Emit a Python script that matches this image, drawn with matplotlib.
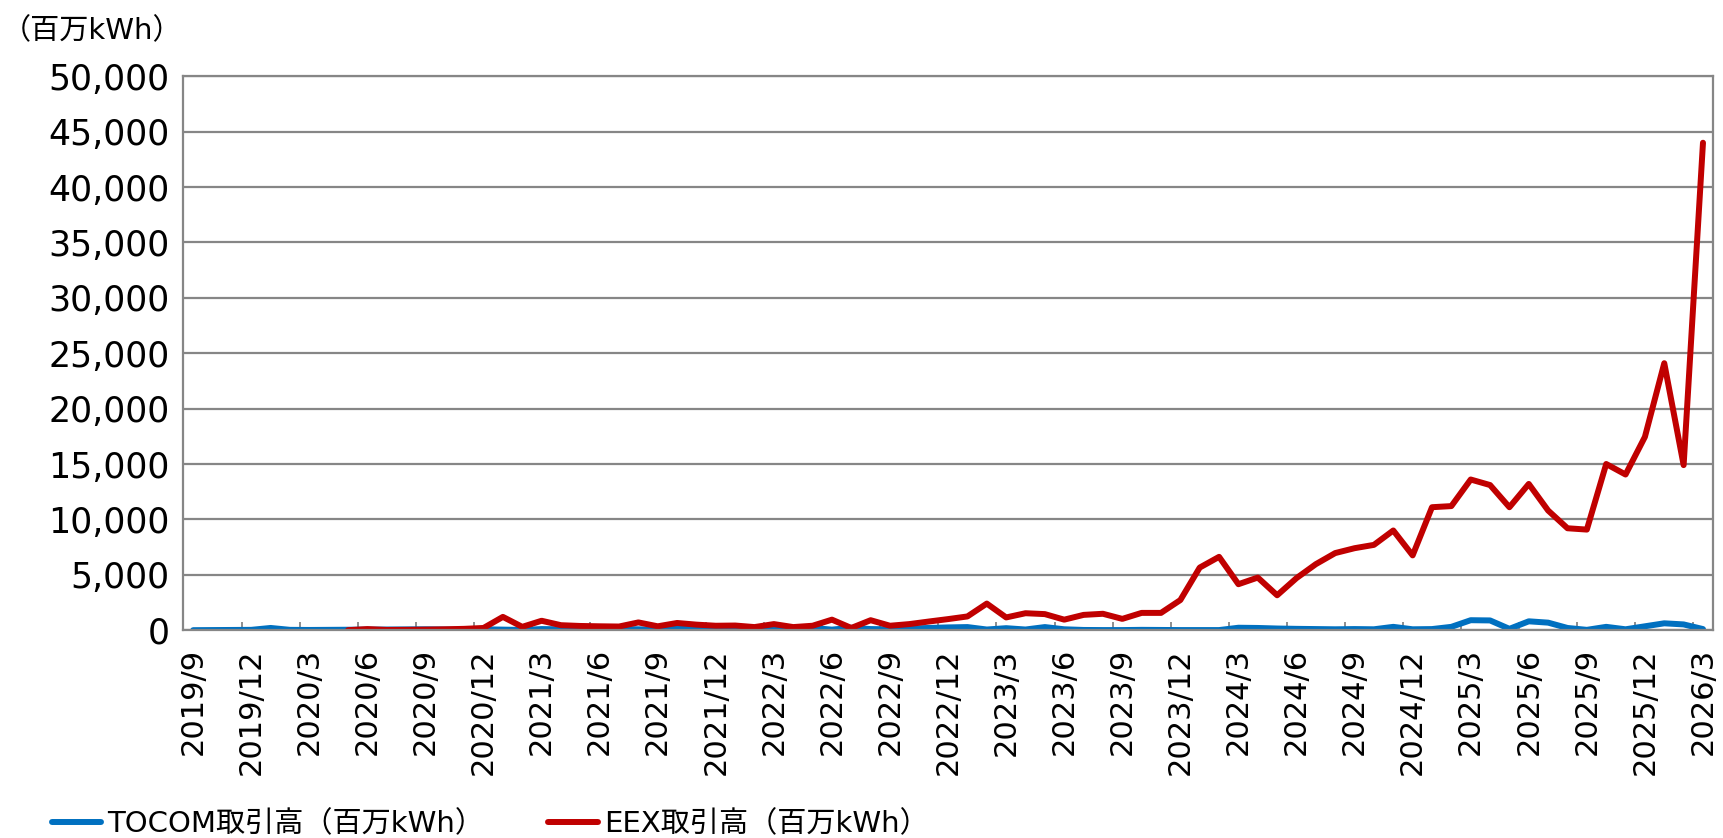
import matplotlib.pyplot as plt
import numpy as np
from matplotlib.ticker import FuncFormatter, FixedLocator

# monthly volumes, 2019/9 .. 2026/3 (million kWh)
tocom = [0, 10, 20, 30, 200, 30, 20, 30, 40, 50, 60, 70, 80, 60, 40, 80,
         50, 20, 100, 80, 50, 120, 100, 80, 30, 200, 80, 60, 50, 100, 150, 180,
         200, 50, 220, 100, 80, 150, 200, 250, 280, 60, 180, 60, 280, 80, 20, 10,
         10, 30, 20, 10, 10, 10, 220, 200, 150, 120, 100, 80, 100, 80, 300, 80,
         100, 300, 900, 880, 120, 800, 680, 200, 30, 300, 80, 350, 620, 520, 100]

eex = [np.nan] * 8 + [
    0, 100, 20, 30, 50, 80, 120, 200, 1200, 300, 850, 450, 380, 350, 330, 700,
    350, 650, 500, 400, 420, 280, 550, 280, 400, 950, 200, 900, 400, 550, 780, 1000,
    1240, 2400, 1150, 1530, 1450, 950, 1380, 1480, 1020, 1560, 1560, 2720, 5650, 6620, 4150, 4750,
    3150, 4700, 5960, 6960, 7400, 7700, 9000, 6750, 11100, 11200, 13600, 13100, 11100, 13200, 10800, 9200,
    9080, 15000, 14050, 17450, 24100, 14900, 44000]

tick_labels = ['2019/9', '2019/12', '2020/3', '2020/6', '2020/9', '2020/12', '2021/3', '2021/6',
               '2021/9', '2021/12', '2022/3', '2022/6', '2022/9', '2022/12', '2023/3', '2023/6',
               '2023/9', '2023/12', '2024/3', '2024/6', '2024/9', '2024/12', '2025/3', '2025/6',
               '2025/9', '2025/12', '2026/3']

series_names = ['TOCOM取引高（百万kWh）', 'EEX取引高（百万kWh）']
unit_label = '（百万kWh）'

plt.rcParams['font.family'] = ['DejaVu Sans', 'Noto Sans CJK JP']
grid_color = '#868686'

fig = plt.figure(figsize=(17.23, 8.38), dpi=100)
ax = fig.add_axes([0.1065, 0.248, 0.8875, 0.661])

x = np.arange(len(tocom))
l1, = ax.plot(x, tocom, color='#0070C0', linewidth=4.3, solid_capstyle='round', solid_joinstyle='round')
l2, = ax.plot(x, eex, color='#C00000', linewidth=4.3, solid_capstyle='round', solid_joinstyle='round')

ax.set_xlim(-0.5, len(tocom) - 0.5)
ax.set_ylim(0, 50000)
ax.set_yticks(np.arange(0, 50001, 5000))
ax.yaxis.set_major_formatter(FuncFormatter(lambda v, p: f'{int(v):,}'))
ax.grid(axis='y', color=grid_color, linewidth=1.6)
ax.set_axisbelow(True)

ax.set_xticks(np.arange(0, len(tocom), 3))
ax.set_xticklabels(tick_labels, rotation=90)
ax.xaxis.set_minor_locator(FixedLocator(np.arange(-0.5, len(tocom), 3)))
ax.tick_params(axis='x', which='major', length=0, pad=13, labelsize=22)
ax.tick_params(axis='x', which='minor', direction='in', length=6, width=1.3, color=grid_color)
ax.tick_params(axis='y', length=0, pad=10, labelsize=25)

for s in ['left', 'right', 'bottom', 'top']:
    ax.spines[s].set_color(grid_color)
    ax.spines[s].set_linewidth(1.6)

fig.text(0.001, 0.963, unit_label, fontsize=21, va='center', ha='left')

fig.legend([l1, l2], series_names, loc='center left', bbox_to_anchor=(0.030, 0.017),
           ncol=2, frameon=False, fontsize=21, handlelength=1.7, handletextpad=0.2,
           columnspacing=2.2, borderpad=0, borderaxespad=0)

plt.savefig('out.png', dpi=100)
